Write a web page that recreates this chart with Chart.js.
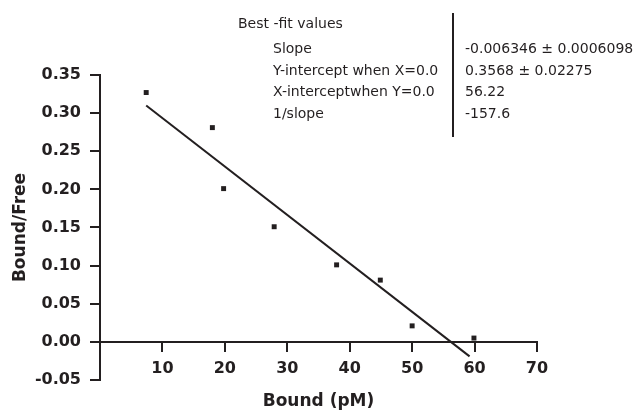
<!DOCTYPE html>
<html lang="en">
<head>
    <meta charset="UTF-8">
    <title>Bound/Free vs Bound</title>
    <script src="https://cdn.jsdelivr.net/npm/chart.js@4.4.1/dist/chart.umd.min.js"></script>
    <style>
        body{ margin:0; background:#fff; }
        #board{ position:relative; width:636px; height:413px; }
        .fit{ position:absolute; font-family:'DejaVu Sans'; font-size:14px; line-height:14px; color:#231f20; white-space:nowrap; }
        #sep{ position:absolute; left:452px; top:13px; width:2px; height:124px; background:#231f20; }
    </style>
</head>
<body>
    <div id="board">
        <canvas id="chart1" width="636" height="413"></canvas>
        <div class="fit" style="left:238px;top:16px">Best -fit values</div>
        <div class="fit" style="left:273px;top:41px">Slope</div>
        <div class="fit" style="left:273px;top:63px">Y-intercept when X=0.0</div>
        <div class="fit" style="left:273px;top:84px">X-interceptwhen Y=0.0</div>
        <div class="fit" style="left:273px;top:106px">1/slope</div>
        <div id="sep"></div>
        <div class="fit" style="left:465px;top:41px">-0.006346 ± 0.0006098</div>
        <div class="fit" style="left:465px;top:63px">0.3568 ± 0.02275</div>
        <div class="fit" style="left:465px;top:84px">56.22</div>
        <div class="fit" style="left:465px;top:106px">-157.6</div>
    </div>
</body>
</html>
<script>
    // measured points
    const boundX = [7.4, 18, 19.8, 27.9, 37.9, 44.9, 50, 59.9];
    const ratioY = [0.327, 0.281, 0.201, 0.151, 0.101, 0.081, 0.021, 0.005];
    // regression line ends
    const fitX = [7.4, 59.2];
    const fitY = [0.31, -0.019];
    const xTicks = [10, 20, 30, 40, 50, 60, 70];
    const yTicks = [-0.05, 0, 0.05, 0.10, 0.15, 0.20, 0.25, 0.30, 0.35];

    const ink = '#231f20';
    Chart.defaults.font.family = "'DejaVu Sans'";
    Chart.defaults.color = ink;

    const ctx = document.getElementById('chart1').getContext('2d');
    new Chart(ctx, {
        type: 'scatter',
        data: {
            datasets: [{
                data: boundX.map((x, i) => ({x: x, y: ratioY[i]})),
                pointStyle: 'rect',
                pointRadius: 3.5,
                borderWidth: 0,
                backgroundColor: ink
            }, {
                type: 'line',
                data: fitX.map((x, i) => ({x: x, y: fitY[i]})),
                borderColor: ink,
                borderWidth: 2,
                pointRadius: 0,
                fill: false
            }]
        },
        options: {
            responsive: false,
            animation: false,
            layout: { padding: { top: 75, right: 99, left: 0, bottom: 0 } },
            plugins: { legend: { display: false }, tooltip: { enabled: false } },
            scales: {
                x: {
                    type: 'linear',
                    position: { y: 0 },
                    min: 0, max: 70,
                    afterBuildTicks: s => { s.ticks = xTicks.map(v => ({value: v})); },
                    afterFit: s => { s.height = 0; },
                    grid: { drawOnChartArea: false, drawTicks: true, tickLength: 9, color: ink, lineWidth: 2 },
                    border: { color: ink, width: 2 },
                    ticks: { font: { size: 16, weight: 'bold' }, padding: 8, maxRotation: 0 }
                },
                xt: {
                    type: 'linear',
                    axis: 'x',
                    position: 'bottom',
                    min: 0, max: 70,
                    afterFit: s => { s.height = 33; },
                    grid: { display: false, drawTicks: false },
                    border: { display: false },
                    ticks: { display: false },
                    title: { display: true, text: 'Bound (pM)', font: { size: 17, weight: 'bold' }, padding: { top: 10, bottom: 1 } }
                },
                y: {
                    position: 'left',
                    min: -0.05, max: 0.35,
                    afterBuildTicks: s => { s.ticks = yTicks.map(v => ({value: v})); },
                    afterFit: s => { s.width = 100; },
                    grid: { drawOnChartArea: false, drawTicks: true, tickLength: 10, color: ink, lineWidth: 2 },
                    border: { color: ink, width: 2 },
                    ticks: { font: { size: 16, weight: 'bold' }, padding: 9, callback: v => v.toFixed(2) },
                    title: { display: true, text: 'Bound/Free', font: { size: 17, weight: 'bold' }, padding: { top: 10, bottom: 0 } }
                }
            }
        }
    });
</script>
